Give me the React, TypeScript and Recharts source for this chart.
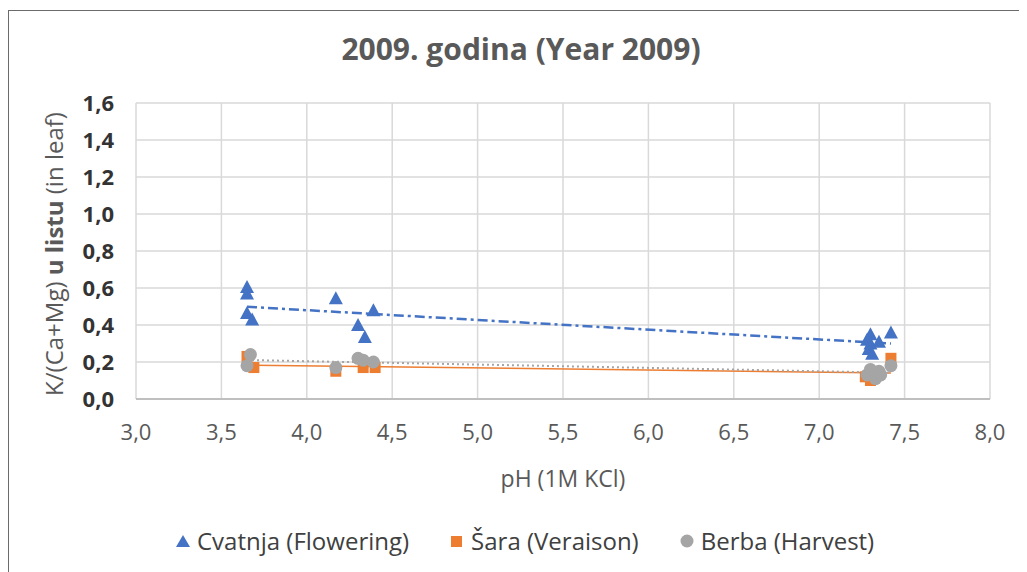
import { CartesianGrid, Scatter, ScatterChart, XAxis, YAxis } from "recharts"

// K/(Ca+Mg) in leaf vs soil pH, 2009
const floweringPh = [3.65, 3.65, 3.65, 3.68, 4.17, 4.39, 4.3, 4.34, 7.3, 7.42, 7.3, 7.35, 7.29, 7.31, 7.28]
const floweringK = [0.605, 0.57, 0.465, 0.43, 0.545, 0.48, 0.4, 0.335, 0.35, 0.36, 0.3, 0.31, 0.27, 0.245, 0.32]

const veraisonPh = [3.65, 3.69, 4.17, 4.33, 4.4, 7.27, 7.3, 7.42, 7.32]
const veraisonK = [0.23, 0.17, 0.15, 0.17, 0.17, 0.12, 0.1, 0.22, 0.13]

const harvestPh = [3.67, 3.65, 4.17, 4.3, 4.33, 4.39, 7.28, 7.33, 7.36, 7.3, 7.42, 7.35]
const harvestK = [0.24, 0.18, 0.17, 0.22, 0.21, 0.2, 0.13, 0.11, 0.13, 0.16, 0.18, 0.15]

const xTicks = [3, 3.5, 4, 4.5, 5, 5.5, 6, 6.5, 7, 7.5, 8]
const yTicks = [0, 0.2, 0.4, 0.6, 0.8, 1.0, 1.2, 1.4, 1.6]

const BLUE = "#4472C4"
const ORANGE = "#ED7D31"
const GRAY = "#A5A5A5"
const FONT = "'Open Sans', sans-serif"

const toPoints = (xs: number[], ys: number[]) => xs.map((x, i) => ({ x, y: ys[i] }))

// least squares trend, drawn over the data's x range like Excel does
function trend(xs: number[], ys: number[]) {
  const n = xs.length
  const mx = xs.reduce((a, b) => a + b, 0) / n
  const my = ys.reduce((a, b) => a + b, 0) / n
  let sxy = 0
  let sxx = 0
  xs.forEach((x, i) => {
    sxy += (x - mx) * (ys[i] - my)
    sxx += (x - mx) * (x - mx)
  })
  const b = sxy / sxx
  const a = my - b * mx
  const lo = Math.min(...xs)
  const hi = Math.max(...xs)
  return [
    { x: lo, y: a + b * lo },
    { x: hi, y: a + b * hi },
  ]
}

const fmt = (v: number) => v.toFixed(1).replace(".", ",")

const Triangle = (props: any) => {
  const { cx, cy } = props
  return <path d={`M${cx},${cy - 7} L${cx + 7},${cy + 6} L${cx - 7},${cy + 6} Z`} fill={BLUE} />
}
const Square = (props: any) => {
  const { cx, cy } = props
  return <rect x={cx - 5.5} y={cy - 5.5} width={11} height={11} fill={ORANGE} />
}
const Dot = (props: any) => {
  const { cx, cy } = props
  return <circle cx={cx} cy={cy} r={6.5} fill={GRAY} />
}
const NoShape = () => null

function LegendItem({ marker, label }: { marker: React.ReactNode; label: string }) {
  return (
    <div style={{ display: "flex", alignItems: "center", gap: 6 }}>
      <svg width={16} height={16}>{marker}</svg>
      <span>{label}</span>
    </div>
  )
}

export default function App() {
  return (
    <div style={{ position: "relative", width: 1019, height: 564, fontFamily: FONT, background: "#fff" }}>
      <div
        style={{
          position: "absolute",
          left: 0,
          top: 2,
          width: 1030,
          height: 580,
          borderLeft: "1.5px solid #6b6b6b",
          borderTop: "1.5px solid #6b6b6b",
        }}
      />
      <div
        style={{
          position: "absolute",
          left: 0,
          width: 1026,
          top: 20,
          textAlign: "center",
          fontSize: 30,
          fontWeight: "bold",
          color: "#595959",
        }}
      >
        2009. godina (Year 2009)
      </div>
      <div
        style={{
          position: "absolute",
          left: 45,
          top: 246,
          transform: "translate(-50%, -50%) rotate(-90deg)",
          whiteSpace: "nowrap",
          fontSize: 24,
          color: "#595959",
        }}
      >
        K/(Ca+Mg) <b>u listu</b> (in leaf)
      </div>
      <div style={{ position: "absolute", left: 0, top: 0 }}>
        <ScatterChart width={1011} height={556} margin={{ top: 95, right: 29, bottom: 105, left: 68 }}>
          <CartesianGrid stroke="#d9d9d9" strokeWidth={1.5} />
          <XAxis
            type="number"
            dataKey="x"
            domain={[3, 8]}
            ticks={xTicks}
            tickFormatter={fmt}
            allowDataOverflow
            height={60}
            tickSize={0}
            tickMargin={25}
            stroke="#bfbfbf"
            strokeWidth={2}
            tick={{ fill: "#595959", fontSize: 22, fontFamily: FONT }}
          />
          <YAxis
            type="number"
            dataKey="y"
            domain={[0, 1.6]}
            ticks={yTicks}
            tickFormatter={fmt}
            allowDataOverflow
            width={60}
            tickSize={0}
            tickMargin={22}
            axisLine={false}
            tick={{ fill: "#333333", fontSize: 22, fontWeight: "bold", fontFamily: FONT }}
          />
          <Scatter
            data={trend(floweringPh, floweringK)}
            shape={NoShape}
            line={{ stroke: BLUE, strokeWidth: 2.5, strokeDasharray: "10 4 3 4" }}
            isAnimationActive={false}
          />
          <Scatter
            data={trend(veraisonPh, veraisonK)}
            shape={NoShape}
            line={{ stroke: ORANGE, strokeWidth: 1.5 }}
            isAnimationActive={false}
          />
          <Scatter
            data={trend(harvestPh, harvestK)}
            shape={NoShape}
            line={{ stroke: GRAY, strokeWidth: 2, strokeDasharray: "2 3" }}
            isAnimationActive={false}
          />
          <Scatter data={toPoints(veraisonPh, veraisonK)} shape={Square} isAnimationActive={false} />
          <Scatter data={toPoints(harvestPh, harvestK)} shape={Dot} isAnimationActive={false} />
          <Scatter data={toPoints(floweringPh, floweringK)} shape={Triangle} isAnimationActive={false} />
        </ScatterChart>
      </div>
      <div
        style={{
          position: "absolute",
          left: 128,
          width: 854,
          top: 454,
          textAlign: "center",
          fontSize: 23,
          color: "#595959",
        }}
      >
        pH (1M KCl)
      </div>
      <div
        style={{
          position: "absolute",
          left: 167,
          top: 516,
          display: "flex",
          gap: 40,
          fontSize: 24,
          color: "#404040",
        }}
      >
        <LegendItem marker={<path d="M8,2 L15,14 L1,14 Z" fill={BLUE} />} label="Cvatnja (Flowering)" />
        <LegendItem marker={<rect x={2} y={3} width={11} height={11} fill={ORANGE} />} label="Šara (Veraison)" />
        <LegendItem marker={<circle cx={8} cy={8} r={6.5} fill={GRAY} />} label="Berba (Harvest)" />
      </div>
    </div>
  )
}
